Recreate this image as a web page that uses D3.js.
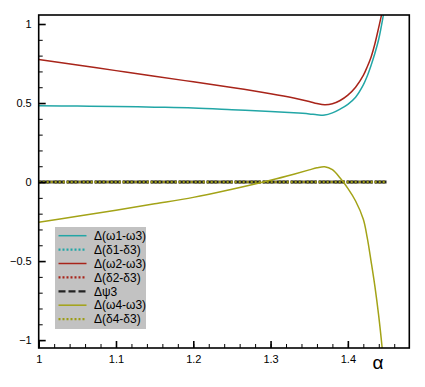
<!DOCTYPE html>
<meta charset="utf-8">
<style>
    body { margin: 0; background: #fff; }
    text { font-family: "Liberation Sans", Arial, sans-serif; fill: #000; }
    .tick text { font-size: 11px; }
    .legend text { font-size: 12px; }
</style>
<body>
<svg width="425" height="387"></svg>
</body>
<script src="https://d3js.org/d3.v7.min.js"></script>
<script>

    // data
    var alpha = [1.00, 1.05, 1.10, 1.15, 1.20, 1.25, 1.30, 1.33, 1.35, 1.36, 1.37, 1.38, 1.39,
                 1.40, 1.41, 1.42, 1.425, 1.43, 1.435, 1.44, 1.445, 1.45];
    var dw13 = [0.483, 0.481, 0.478, 0.474, 0.469, 0.458, 0.446, 0.438, 0.431, 0.426, 0.424, 0.438, 0.462,
                0.492, 0.537, 0.615, 0.670, 0.738, 0.815, 0.905, 1.030, 1.18];
    var dw23 = [0.775, 0.740, 0.705, 0.670, 0.634, 0.598, 0.559, 0.532, 0.510, 0.497, 0.489, 0.495, 0.516,
                0.550, 0.600, 0.675, 0.728, 0.790, 0.875, 0.980, 1.090, 1.22];
    var dw43 = [-0.255, -0.217, -0.178, -0.138, -0.097, -0.045, 0.012, 0.050, 0.077, 0.090, 0.097, 0.078, 0.025,
                -0.040, -0.120, -0.235, -0.350, -0.500, -0.660, -0.850, -1.080, -1.35];
    var zeroAlpha = [1.00, 1.45];
    var zeroVal = [0, 0];

    var xTicks = [1, 1.1, 1.2, 1.3, 1.4];
    var yTicks = [-1, -0.5, 0, 0.5, 1];

    var series = [
        {name: "\u0394(\u03c91-\u03c93)", x: alpha, y: dw13, color: "#22a6a6", dash: null, width: 1.5},
        {name: "\u0394(\u03b41-\u03b43)", x: zeroAlpha, y: zeroVal, color: "#22a6a6", dash: "2,2", width: 2.5},
        {name: "\u0394(\u03c92-\u03c93)", x: alpha, y: dw23, color: "#a8241a", dash: null, width: 1.5},
        {name: "\u0394(\u03b42-\u03b43)", x: zeroAlpha, y: zeroVal, color: "#a8241a", dash: "2,2", width: 2.5},
        {name: "\u0394\u03c83", x: zeroAlpha, y: zeroVal, color: "#222", dash: "12,2", width: 3},
        {name: "\u0394(\u03c94-\u03c93)", x: alpha, y: dw43, color: "#a3a317", dash: null, width: 1.5},
        {name: "\u0394(\u03b44-\u03b43)", x: zeroAlpha, y: zeroVal, color: "#9c9c14", dash: "2,2", width: 2.5}
    ];

    var svg = d3.select("svg"),
        pLeft = 38.7, pRight = 409.3, pTop = 15, pBottom = 348;

    var x = d3.scaleLinear().domain([1, 1.4795]).range([pLeft, pRight]);
    var y = d3.scaleLinear().domain([-1.05, 1.057]).range([pBottom, pTop]);

    svg.append("clipPath").attr("id", "clip")
        .append("rect")
        .attr("x", pLeft).attr("y", pTop)
        .attr("width", pRight - pLeft).attr("height", pBottom - pTop);

    // curves
    var line = d3.line()
        .x(function (d) { return x(d[0]); })
        .y(function (d) { return y(d[1]); })
        .curve(d3.curveCatmullRom.alpha(0.5));

    var plot = svg.append("g").attr("clip-path", "url(#clip)");
    series.forEach(function (s) {
        plot.append("path")
            .datum(d3.zip(s.x, s.y))
            .attr("d", line)
            .attr("fill", "none")
            .attr("stroke", s.color)
            .attr("stroke-width", s.width)
            .attr("stroke-dasharray", s.dash);
    });

    // minor ticks (inside)
    var xMinor = d3.range(1, 1.4701, 0.02);
    var yMinor = d3.range(-1, 1.001, 0.1);

    svg.append("g")
        .attr("transform", "translate(0," + pBottom + ")")
        .call(d3.axisBottom(x).tickValues(xMinor).tickSize(-4).tickFormat(""))
        .call(function (g) { g.select(".domain").remove(); });
    svg.append("g")
        .attr("transform", "translate(" + pLeft + ",0)")
        .call(d3.axisLeft(y).tickValues(yMinor).tickSize(-4).tickFormat(""))
        .call(function (g) { g.select(".domain").remove(); });

    // major ticks with labels
    var xAxis = svg.append("g")
        .attr("transform", "translate(0," + pBottom + ")")
        .call(d3.axisBottom(x).tickValues(xTicks).tickSize(-7).tickPadding(7)
            .tickFormat(d3.format("")));
    xAxis.select(".domain").remove();
    xAxis.selectAll("line").attr("stroke-width", 1.6);

    var yAxis = svg.append("g")
        .attr("transform", "translate(" + pLeft + ",0)")
        .call(d3.axisLeft(y).tickValues(yTicks).tickSize(-7).tickPadding(7)
            .tickFormat(d3.format("")));
    yAxis.select(".domain").remove();
    yAxis.selectAll("line").attr("stroke-width", 1.6);

    // frame
    svg.append("rect")
        .attr("x", pLeft).attr("y", pTop)
        .attr("width", pRight - pLeft).attr("height", pBottom - pTop)
        .attr("fill", "none")
        .attr("stroke", "#000")
        .attr("stroke-width", 1.6);

    svg.append("text")
        .attr("x", 378).attr("y", 369)
        .attr("text-anchor", "middle")
        .style("font-size", "19px")
        .text("\u03b1");

    // legend
    var legend = svg.append("g").attr("class", "legend")
        .attr("transform", "translate(55,227)");
    legend.append("rect")
        .attr("width", 91).attr("height", 102)
        .attr("fill", "#c2c2c2");

    var item = legend.selectAll(".item")
        .data(series)
        .enter().append("g")
        .attr("class", "item")
        .attr("transform", function (d, i) { return "translate(0," + (8.7 + i * 13.9) + ")"; });

    item.append("line")
        .attr("x1", 3.5).attr("x2", 31.5)
        .attr("stroke", function (d) { return d.color; })
        .attr("stroke-width", function (d) { return d.dash ? 2.2 : 1.5; })
        .attr("stroke-dasharray", function (d) { return d.dash === "12,2" ? "7,3" : d.dash; });

    item.append("text")
        .attr("x", 39)
        .attr("dy", "0.35em")
        .text(function (d) { return d.name; });

</script>
